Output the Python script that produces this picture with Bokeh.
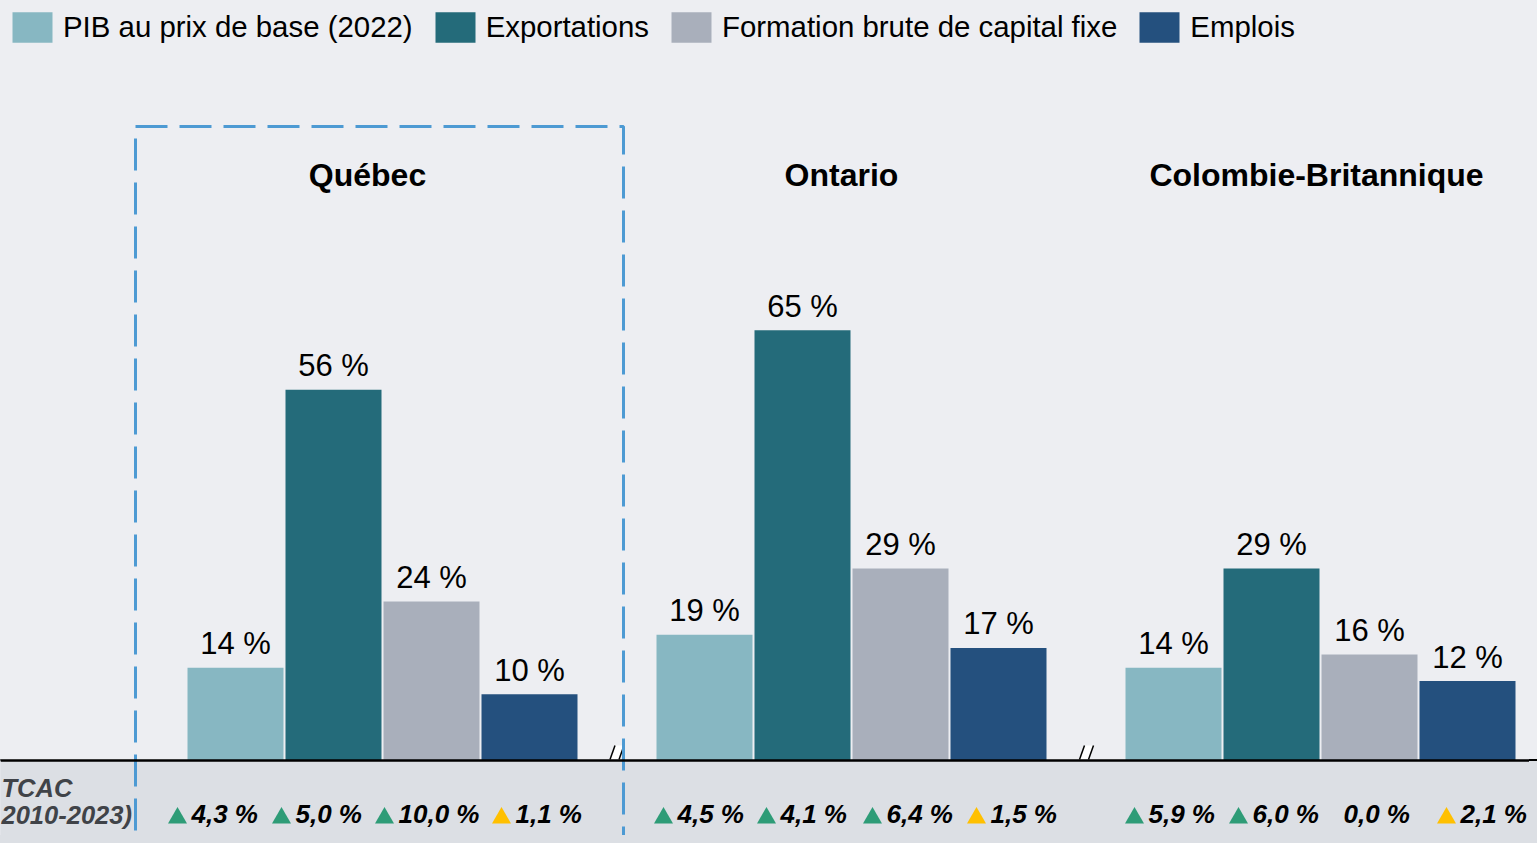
from bokeh.plotting import figure
from bokeh.models import Range1d, Span, Legend, LegendItem, BoxAnnotation
from bokeh.embed import file_html
from bokeh.resources import INLINE
from bokeh.core.properties import value

# ---------------- data ----------------
regions = ["Québec", "Ontario", "Colombie-Britannique"]
series = ["PIB au prix de base (2022)", "Exportations",
          "Formation brute de capital fixe", "Emplois"]
pib = [14, 19, 14]
exportations = [56, 65, 29]
fbcf = [24, 29, 16]
emplois = [10, 17, 12]
tcac_pib = [4.3, 4.5, 5.9]
tcac_exportations = [5.0, 4.1, 6.0]
tcac_fbcf = [10.0, 6.4, 0.0]
tcac_emplois = [1.1, 1.5, 2.1]
trend_pib = ["up", "up", "up"]
trend_exportations = ["up", "up", "up"]
trend_fbcf = ["up", "up", "none"]
trend_emplois = ["mid", "mid", "mid"]
tcac_label = ["TCAC", "2010-2023)"]

shares = [pib, exportations, fbcf, emplois]
tcacs = [tcac_pib, tcac_exportations, tcac_fbcf, tcac_emplois]
trends = [trend_pib, trend_exportations, trend_fbcf, trend_emplois]

# ---------------- style / layout ----------------
W, H = 1529, 835
BASE = 760           # pixel row of the zero line
X_ORIGIN = 235       # pixel column of the first bar centre
PX_X = 98.0          # pixels per bar step
PX_Y = 6.62          # pixels per percentage point
GROUP_STEP = 469 / PX_X
BAR_W = 96 / PX_X
FONT = "Liberation Sans"
BG = "#edeef2"
STRIP = "#dcdfe4"
COLORS = ["#87b7c2", "#246b7a", "#a9afbb", "#24507e"]
TREND_COLORS = {"up": "#2e9c77", "mid": "#ffc000"}
DASH_BLUE = "#4d9ad3"
NUM_DX = [[-44, -38, -33, -14], [-27, -22, -14, -8], [-25, -19, -26, -7]]
TITLE_DX = [-15, -10, -4]


def ux(px):
    return px / PX_X


def uy(px):
    return px / PX_Y


def col(px):   # absolute pixel column -> x data
    return (px - X_ORIGIN) / PX_X


def row(py):   # absolute pixel row -> y data
    return (BASE - py) / PX_Y


x0 = col(0)
x1 = col(W)
y1 = row(0)
y0 = row(H)

p = figure(width=W, height=H, output_backend="svg", toolbar_location=None,
           x_range=Range1d(x0, x1), y_range=Range1d(y0, y1),
           min_border=0, min_border_left=0, min_border_right=0,
           min_border_top=0, min_border_bottom=0)
p.axis.visible = False
p.grid.visible = False
p.outline_line_color = None
p.background_fill_color = BG
p.border_fill_color = BG

# bottom strip
p.add_layout(BoxAnnotation(top=0, fill_color=STRIP, fill_alpha=1, line_color=None, level="underlay"))

legend_items = []
for i, (name, vals) in enumerate(zip(series, shares)):
    xs = [g * GROUP_STEP + i for g in range(len(regions))]
    r = p.vbar(x=xs, top=vals, bottom=0, width=BAR_W, fill_color=COLORS[i], line_color=None)
    legend_items.append(LegendItem(label=name, renderers=[r]))
    p.text(x=xs, y=[v + uy(24) for v in vals], text=[f"{v} %" for v in vals],
           text_align="center", text_baseline="middle",
           text_font=value(FONT), text_font_size="31px", text_color="#000000")
    # growth rates
    nx = [xs[g] + ux(NUM_DX[g][i]) for g in range(len(regions))]
    p.text(x=nx, y=[row(813)] * len(nx),
           text=[f"{t:.1f}".replace(".", ",") + " %" for t in tcacs[i]],
           text_align="left", text_baseline="middle",
           text_font=value(FONT), text_font_size="26px", text_font_style="bold italic",
           text_color="#000000")
    tx = [nx[g] - ux(14) for g in range(len(regions)) if trends[i][g] != "none"]
    tc = [TREND_COLORS[trends[i][g]] for g in range(len(regions)) if trends[i][g] != "none"]
    p.scatter(x=tx, y=[row(817.5)] * len(tx), marker="triangle", size=19,
              fill_color=tc, line_color=None)

# region titles
tx = [g * GROUP_STEP + 1.5 + ux(TITLE_DX[g]) for g in range(len(regions))]
p.text(x=tx, y=[row(174)] * 3, text=regions, text_align="center", text_baseline="middle",
       text_font=value(FONT), text_font_size="32px", text_font_style="bold", text_color="#000000")

# TCAC label
p.text(x=[col(1), col(1)], y=[row(787), row(814)], text=tcac_label,
       text_align="left", text_baseline="middle",
       text_font=value(FONT), text_font_size="25.5px", text_font_style="bold italic",
       text_color="#404348")

# axis-break marks
for c in [col(616.5), col(1086)]:
    p.patch(x=[c - ux(7), c + ux(2), c + ux(7), c - ux(2)],
            y=[uy(1), uy(1), uy(15), uy(15)], fill_color="#ffffff", line_color=None)
    p.segment(x0=[c - ux(7), c + ux(2)], y0=[uy(1)] * 2,
              x1=[c - ux(2), c + ux(7)], y1=[uy(15)] * 2, line_color="#000000", line_width=1.5)

# baseline
p.add_layout(Span(location=0, dimension="width", line_color="#000000", line_width=2.5))

# dashed highlight box around Québec
L, R, T, B = col(135), col(623), row(126), y0 - 5
p.line(x=[L, R, R], y=[T, T, B], line_color=DASH_BLUE, line_width=3, line_dash="32 12")
p.line(x=[L, L], y=[T, B], line_color=DASH_BLUE, line_width=3, line_dash="32 12",
       line_dash_offset=32)

legend = Legend(items=legend_items, orientation="horizontal", location=(7, H - 8 - 38),
                glyph_width=50, glyph_height=38, label_height=38, label_standoff=6,
                spacing=17, padding=0, margin=0,
                background_fill_alpha=0, border_line_color=None,
                label_text_font=FONT, label_text_font_size="29.4px", label_text_color="#000000")
p.add_layout(legend)

html = file_html(p, INLINE, title="Québec, Ontario, Colombie-Britannique")
html = html.replace("</head>",
                    "<style>html,body{background:linear-gradient(#edeef2 0 759px,#000 759px 761px,#dcdfe4 761px);}</style></head>", 1)
open("out.html", "w").write(html)
